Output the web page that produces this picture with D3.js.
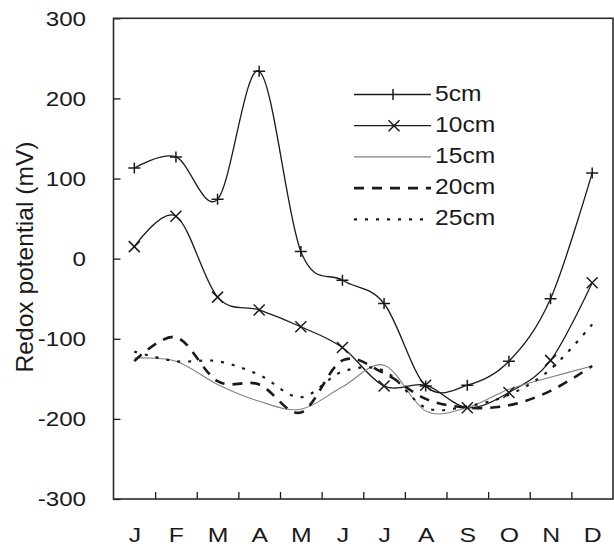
<!DOCTYPE html>
<html>
<head>
<meta charset="utf-8">
<script src="https://cdn.jsdelivr.net/npm/d3@7"></script>
<style>
  html, body { margin: 0; padding: 0; background: #fff; }
  svg { display: block; font-family: "Liberation Sans", Arial, sans-serif; }
</style>
</head>
<body>
<svg id="chart" width="614" height="546"></svg>
<script>
// Monthly redox potential (mV) at five soil depths
const months = ["J", "F", "M", "A", "M", "J", "J", "A", "S", "O", "N", "D"];
const depth5  = [113, 127, 74, 234, 9, -27, -56, -159, -158, -128, -50, 107];
const depth10 = [15, 53, -48, -64, -85, -111, -159, -158, -186, -167, -127, -30];
const depth15 = [-124, -128, -157, -178, -188, -160, -133, -190, -186, -163, -148, -134];
const depth20 = [-128, -98, -153, -157, -192, -127, -143, -175, -186, -183, -165, -134];
const depth25 = [-116, -128, -128, -145, -173, -141, -140, -186, -184, -170, -138, -82];
const seriesNames = ["5cm", "10cm", "15cm", "20cm", "25cm"];
const yTicks = [-300, -200, -100, 0, 100, 200, 300];
const yTitle = "Redox potential (mV)";

const seriesValues = [depth5, depth10, depth15, depth20, depth25];

// drawing styles per depth
const styles = [
  { stroke: "#1a1a1a", width: 1.3, dash: null, marker: "plus" },
  { stroke: "#1a1a1a", width: 1.3, dash: null, marker: "cross" },
  { stroke: "#808080", width: 1.1, dash: null, marker: null },
  { stroke: "#1a1a1a", width: 2.6, dash: "10,8", marker: null },
  { stroke: "#1a1a1a", width: 2.2, dash: "3,8", marker: null }
];

const plot = { left: 113.5, right: 613, top: 18.3, bottom: 499 };
const svg = d3.select("#chart");
const ink = "#1a1a1a";

const x = d3.scaleLinear().domain([0, 12]).range([plot.left, plot.right]);
const y = d3.scaleLinear().domain([-300, 300]).range([plot.bottom, plot.top]);

// widen glyphs along their baseline
function stretch(sel, s) {
  sel.each(function () {
    const t = d3.select(this);
    const tx = +t.attr("x") || 0, ty = +t.attr("y") || 0;
    t.attr("x", 0).attr("y", 0)
     .attr("transform", `translate(${tx},${ty}) scale(${s},1)`);
  });
}

// y axis: inward ticks and labels (plain hyphen for negatives)
const yAxis = svg.append("g")
  .attr("transform", `translate(${plot.left},0)`)
  .call(d3.axisLeft(y).tickValues(yTicks).tickSizeInner(-7).tickSizeOuter(0).tickPadding(27.5)
    .tickFormat(d => String(d)));
yAxis.select(".domain").remove();
yAxis.selectAll("line").attr("stroke", ink).attr("stroke-width", 1.3);
yAxis.selectAll("text").attr("font-size", 21).attr("fill", ink)
  .attr("font-family", "Liberation Sans, Arial, sans-serif");
stretch(yAxis.selectAll("text"), 1.15);

// x axis: ticks at month boundaries pointing inward
const xTickAxis = svg.append("g")
  .attr("transform", `translate(0,${plot.bottom})`)
  .call(d3.axisBottom(x).tickValues(d3.range(1, 12)).tickSizeInner(-7).tickSizeOuter(0).tickFormat(""));
xTickAxis.select(".domain").remove();
xTickAxis.selectAll("line").attr("stroke", ink).attr("stroke-width", 1.3);

// month labels centred in each month
const xLabelAxis = svg.append("g")
  .attr("transform", `translate(0,${plot.bottom})`)
  .call(d3.axisBottom(x).tickValues(d3.range(12).map(i => i + 0.5)).tickSize(0).tickPadding(28)
    .tickFormat((d, i) => months[i]));
xLabelAxis.select(".domain").remove();
xLabelAxis.selectAll("text").attr("font-size", 21).attr("fill", ink)
  .attr("font-family", "Liberation Sans, Arial, sans-serif");
stretch(xLabelAxis.selectAll("text"), 1.18);

// frame
svg.append("rect")
  .attr("x", plot.left).attr("y", plot.top)
  .attr("width", plot.right - plot.left).attr("height", plot.bottom - plot.top)
  .attr("fill", "none").attr("stroke", "#2a2a2a").attr("stroke-width", 1.6);

// y title
svg.append("text")
  .attr("transform", `translate(33,257) rotate(-90) scale(1.07,1)`)
  .attr("text-anchor", "middle")
  .attr("font-size", 23).attr("fill", ink)
  .text(yTitle);

// series lines
const line = d3.line()
  .x((d, i) => x(i + 0.5))
  .y(d => y(d))
  .curve(d3.curveCardinal.tension(0));

const markerPath = {
  plus: "M-6,0H6M0,-5.5V5.5",
  cross: "M-5.5,-5.5L5.5,5.5M-5.5,5.5L5.5,-5.5"
};

seriesValues.forEach((vals, k) => {
  const st = styles[k];
  svg.append("path")
    .datum(vals)
    .attr("d", line)
    .attr("fill", "none")
    .attr("stroke", st.stroke)
    .attr("stroke-width", st.width)
    .attr("stroke-dasharray", st.dash)
    .attr("stroke-linejoin", "round");
});

seriesValues.forEach((vals, k) => {
  const st = styles[k];
  if (!st.marker) return;
  svg.append("g").selectAll("path")
    .data(vals)
    .join("path")
    .attr("transform", (d, i) => `translate(${x(i + 0.5)},${y(d)})`)
    .attr("d", markerPath[st.marker])
    .attr("fill", "none")
    .attr("stroke", ink)
    .attr("stroke-width", 1.5);
});

// legend
const legend = svg.append("g");
const lx0 = 354, lx1 = 431, ly0 = 94.5, lstep = 31.2;
seriesNames.forEach((name, k) => {
  const st = styles[k];
  const ly = ly0 + k * lstep;
  legend.append("line")
    .attr("x1", lx0).attr("x2", lx1).attr("y1", ly).attr("y2", ly)
    .attr("stroke", st.stroke).attr("stroke-width", st.width)
    .attr("stroke-dasharray", st.dash);
  if (st.marker === "plus") {
    legend.append("path").attr("transform", `translate(393,${ly})`)
      .attr("d", "M0,-5.5V5.5").attr("stroke", ink).attr("stroke-width", 1.5);
  } else if (st.marker === "cross") {
    legend.append("path").attr("transform", `translate(394,${ly})`)
      .attr("d", markerPath.cross).attr("stroke", ink).attr("stroke-width", 1.5);
  }
  legend.append("text")
    .attr("transform", `translate(435,${ly - 1.5}) scale(1.12,1)`)
    .attr("dominant-baseline", "central")
    .attr("font-size", 22).attr("fill", ink)
    .text(name);
});
</script>
</body>
</html>
